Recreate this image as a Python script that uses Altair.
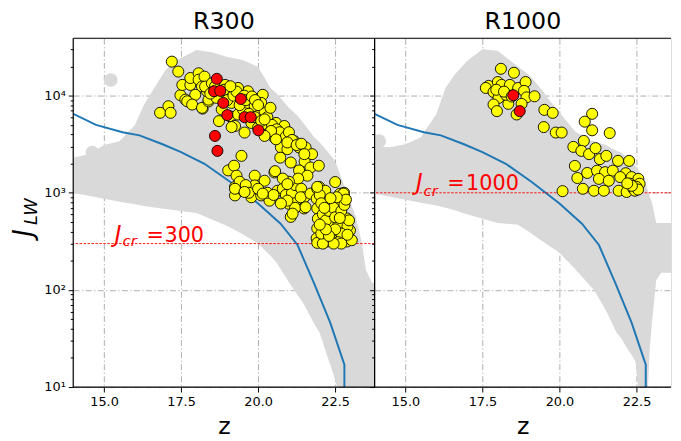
import altair as alt
import pandas as pd

FONT = "DejaVu Sans"

# ---------------- axes / ticks ----------------
x_ticks = [15.0, 17.5, 20.0, 22.5]
y_major = [10, 100, 1000, 10000]
y_major_labels = ["10¹", "10²", "10³", "10⁴"]
y_minor_mult = [2, 3, 4, 5, 6, 7, 8, 9]
Y_DOMAIN = [10, 39000]
X_DOMAIN_L = [14.0, 23.78]
X_DOMAIN_R = [14.0, 23.62]
W_L, W_R, H = 305, 300, 353

# ---------------- grey cloud (all haloes), envelope per panel ----------------
cloud_r300_z = [14.0, 14.5, 15.0, 15.5, 16.0, 16.3, 16.7, 17.0, 17.5, 18.0, 18.5, 19.0, 19.5, 20.0,
                20.4, 20.6, 21.0, 21.3, 21.5, 21.8, 22.0, 22.24, 22.4, 22.46, 22.56, 22.85, 23.17,
                23.37, 23.5, 23.7, 23.8]
cloud_r300_hi = [2300, 2500, 3100, 3400, 5000, 8100, 13000, 18500, 24400, 29500, 28000, 25000, 23300,
                 19800, 12000, 10500, 7500, 6100, 5070, 3800, 3300, 2700, 2330, 2200, 1900, 1050, 570,
                 300, 160, 118, 118]
cloud_r300_lo = [1000, 930, 870, 810, 760, 730, 700, 680, 650, 620, 530, 455, 375, 300, 225, 190, 120,
                 87, 70, 46, 36, 21, 15, 13, 10, 7, 7, 7, 7, 7, 7]

cloud_r1000_z = [14.0, 14.5, 15.0, 15.5, 16.0, 16.3, 16.6, 17.0, 17.5, 18.0, 18.5, 18.65, 19.0, 19.2,
                 19.5, 19.7, 19.93, 20.0, 20.5, 21.0, 21.12, 21.5, 21.86, 22.0, 22.2, 22.4, 22.47,
                 22.55, 22.7, 22.85, 22.93, 23.0, 23.14, 23.3, 23.62]
cloud_r1000_hi = [3000, 2950, 3160, 3720, 6450, 12000, 16500, 22700, 30000, 29000, 21700, 20000, 16400,
                  14000, 10700, 8800, 7000, 6700, 4300, 3460, 3400, 3100, 2700, 2600, 2300, 2000, 1900,
                  1750, 1450, 1100, 910, 800, 490, 490, 490]
cloud_r1000_lo = [980, 910, 850, 790, 740, 700, 660, 600, 540, 490, 475, 470, 400, 360, 310, 280, 250,
                  240, 165, 110, 100, 62, 36, 32, 25, 20, 18, 10, 7, 7, 25, 46, 126, 150, 150]

# isolated grey haloes
blob_r300 = [(15.22, 14500), (14.62, 2600)]
blob_r1000 = [(14.15, 3400)]

# ---------------- critical curve ----------------
curve_z = [14.0, 14.74, 15.6, 16.15, 16.9, 17.5, 18.26, 19.1, 20.0, 20.73, 21.28, 21.81, 22.34, 22.8, 22.8]
curve_j = [6500, 5000, 4200, 3900, 3160, 2620, 1990, 1290, 775, 480, 290, 118, 46, 17, 5]

# ---------------- selected haloes ----------------
r300_yellow = [
    (17.20, 22400), (17.41, 17700), (16.82, 6660), (17.09, 7780), (17.16, 6660), (17.48, 10100),
    (17.54, 12900), (17.80, 12900), (17.80, 15200), (18.07, 17000), (18.07, 14600), (18.26, 15700),
    (18.18, 12400), (17.96, 10200), (17.64, 9100), (17.70, 8750), (17.86, 8100), (18.20, 7360),
    (18.18, 7490), (18.39, 8730), (18.39, 9100), (18.34, 11100), (18.28, 12400), (18.50, 13400),
    (18.60, 12400), (18.77, 10200), (18.93, 12900), (19.03, 10600), (19.14, 8420), (18.82, 7200),
    (18.73, 5470), (19.08, 6150), (19.35, 6400), (19.25, 4870), (19.14, 4750), (19.51, 7200),
    (19.67, 8420), (19.46, 9460), (19.67, 11100), (19.35, 12000), (19.89, 7780), (20.05, 6400),
    (20.21, 6930), (20.15, 10200), (20.10, 8420), (19.78, 5240), (20.00, 4680), (20.26, 5060),
    (20.37, 4170), (20.53, 3700), (19.56, 4170), (20.58, 5240), (20.85, 4870), (20.79, 4000),
    (20.74, 2930), (20.95, 2810), (21.17, 3410), (21.33, 2930), (21.54, 2930), (21.51, 2100),
    (21.70, 1820), (21.97, 1900), (21.06, 2050), (20.72, 2300), (20.53, 1620), (21.33, 1700),
    (21.60, 1500), (19.46, 2400), (18.55, 11000), (18.65, 9500), (18.90, 11500), (19.00, 9000),
    (19.20, 10000), (19.30, 11000), (19.10, 12500), (18.45, 10500), (19.40, 8000), (19.55, 10000),
    (19.60, 9000), (19.80, 9800), (19.90, 9000), (20.00, 8000), (19.70, 6500), (19.90, 6000),
    (20.10, 5500), (20.30, 6000), (20.40, 7500), (20.45, 5000), (20.60, 4500), (20.70, 4200),
    (20.90, 3800), (21.00, 4200), (21.10, 3500), (20.95, 3300), (21.25, 3100), (21.40, 3200),
    (21.75, 2500), (21.50, 2500), (20.21, 5700), (20.42, 4330), (20.21, 3850), (20.58, 3550),
    (19.03, 1700), (19.22, 1900), (19.30, 1500), (19.25, 1150), (19.25, 940), (19.51, 1050),
    (19.89, 1500), (19.89, 1190), (20.21, 1330), (19.78, 900), (20.10, 940), (20.37, 830),
    (20.63, 1050), (20.80, 1100), (21.00, 770), (21.22, 830), (21.06, 565), (21.49, 690),
    (19.40, 1300), (19.60, 1200), (19.70, 1000), (20.00, 1100), (20.30, 1000), (20.50, 950),
    (20.90, 950), (21.10, 1000), (21.20, 1200), (21.30, 1400), (21.00, 1300), (20.80, 1400),
    (21.40, 1100), (21.50, 900), (21.20, 700), (21.38, 900), (21.54, 710), (21.70, 980),
    (20.55, 1670), (19.25, 1100), (19.56, 1020), (20.15, 980), (20.95, 830), (20.74, 775),
    (20.95, 1230), (21.12, 610),
    (21.98, 1150), (21.92, 1100), (21.90, 870), (21.92, 690), (21.94, 540), (21.92, 430),
    (21.90, 340), (21.92, 305), (22.18, 1050), (22.66, 980), (22.61, 800), (22.34, 775),
    (22.24, 610), (22.56, 610), (22.88, 545), (22.77, 445), (22.98, 410), (22.34, 410),
    (22.13, 445), (22.56, 355), (22.24, 315), (22.88, 315), (23.04, 325), (22.40, 500),
    (22.61, 480), (22.13, 355), (22.79, 1000), (22.50, 1290), (22.77, 980), (22.00, 950),
    (22.05, 780), (22.10, 600), (22.20, 520), (22.30, 650), (22.45, 700), (22.50, 560),
    (22.70, 650), (22.80, 750), (22.90, 450), (22.70, 380), (22.50, 420), (22.40, 330),
    (22.60, 310), (22.70, 300), (22.45, 300), (22.10, 300), (22.05, 380), (22.30, 360),
    (22.20, 420), (22.90, 370), (22.95, 520), (22.85, 850), (22.00, 470), (22.15, 700),
    (22.65, 550), (22.55, 900), (22.35, 880), (21.92, 1150),
]
r300_red = [
    (18.66, 14900), (18.57, 11100), (18.77, 11200), (18.87, 8420), (19.44, 9250), (19.00, 6300),
    (19.56, 6000), (19.76, 6000), (20.01, 4400), (18.60, 3850), (18.68, 2700),
]
r1000_yellow = [
    (18.10, 18900), (18.52, 17200), (17.70, 12600), (17.61, 12000), (18.00, 13800), (17.86, 10900),
    (18.12, 12900), (18.39, 12900), (18.66, 12000), (18.90, 13800), (18.85, 11200), (18.93, 9600),
    (19.19, 9850), (18.02, 9460), (17.86, 8100), (17.97, 6930), (18.34, 8230), (18.77, 8230),
    (18.61, 6400), (18.26, 10200), (17.95, 11500), (18.20, 11000), (18.45, 9800),
    (19.51, 7140), (19.78, 6650), (19.49, 4750), (19.88, 4170), (20.07, 4170), (21.06, 6500),
    (20.82, 5400), (21.06, 4400), (21.63, 4120), (20.79, 3420), (20.45, 2970), (20.71, 2700),
    (20.96, 2500), (21.17, 2880), (21.31, 2220), (21.52, 2400), (21.90, 2130), (22.26, 2130),
    (20.50, 1890), (20.58, 1420), (20.90, 1600), (21.22, 1690), (21.48, 1630), (21.73, 1690),
    (22.15, 1590), (21.28, 1390), (21.60, 1330), (21.97, 1450), (22.34, 1450), (22.56, 1390),
    (20.76, 1100), (21.12, 1050), (21.44, 1050), (21.92, 1050), (22.18, 1020), (22.40, 1100),
    (22.60, 1240), (20.10, 1040), (22.29, 1240), (22.50, 1150), (22.45, 1050), (22.55, 1080),
    (22.35, 1180), (22.20, 1250),
]
r1000_red = [(18.50, 10100), (18.71, 6930)]

# ---------------- annotation text ----------------
jcr_r300 = 300
jcr_r1000 = 1000
label_r300 = [("J", 15.35, 310, 23, "italic"), ("cr", 15.60, 280, 15, "italic"),
              ("=", 16.38, 310, 21, "normal"), ("300", 16.96, 310, 21, "normal")]
label_r1000 = [("J", 15.34, 1074, 23, "italic"), ("cr", 15.59, 935, 15, "italic"),
               ("=", 16.36, 1074, 21, "normal"), ("1000", 16.97, 1074, 21, "normal")]


def pts(pairs):
    return pd.DataFrame(pairs, columns=["z", "J"])


major_test = "indexof(" + str(y_major) + ", datum.value) >= 0"
label_expr = " : ".join(
    f"datum.value == {v} ? '{t}'" for v, t in zip(y_major, y_major_labels)) + " : ''"
y_ticks = sorted(set(y_major + [m * v for v in y_major for m in y_minor_mult]))
y_ticks = [v for v in y_ticks if Y_DOMAIN[0] <= v <= Y_DOMAIN[1]]

GRID = dict(grid=True, gridColor="#9a9a9a", gridWidth=0.8, gridDash=[6, 2.5, 1.2, 2.5])


def x_axis():
    return alt.Axis(values=x_ticks, format=".1f", title="z", titleFont=FONT, titleFontSize=24,
                    titleFontWeight="normal", titleColor="black", titlePadding=6,
                    labelFont=FONT, labelFontSize=13, labelColor="black", labelPadding=4,
                    tickSize=5, tickColor="black", tickWidth=1, domain=False, labelFlush=False,
                    **GRID)


def y_axis(show_labels):
    kw = dict(values=y_ticks, title=None, domain=False, tickColor="black", tickWidth=1,
              tickSize={"condition": {"test": major_test, "value": 5}, "value": 3},
              gridOpacity={"condition": {"test": major_test, "value": 1}, "value": 0},
              labelOverlap=False, labelFont=FONT, labelFontSize=13, labelColor="black",
              labelPadding=3, **GRID)
    if show_labels:
        kw["labelExpr"] = label_expr
    else:
        kw["labels"] = False
    return alt.Axis(**kw)


def panel(title, width, xdom, cz, clo, chi, blobs, yellow, red, jcr, labels, left):
    xs = alt.Scale(domain=xdom, nice=False, zero=False)
    ys = alt.Scale(type="log", domain=Y_DOMAIN, nice=False)
    X = alt.X("z:Q", scale=xs, axis=x_axis())
    Y = alt.Y("J:Q", scale=ys, axis=y_axis(left))

    cloud = alt.Chart(pd.DataFrame({"z": cz, "J": clo, "J2": chi})).mark_area(
        color="#d9d9d9", opacity=1, clip=True).encode(x=X, y=Y, y2="J2:Q")
    blob = alt.Chart(pts(blobs)).mark_circle(size=190, color="#d9d9d9", opacity=1, clip=True).encode(x=X, y=Y)
    curve = alt.Chart(pd.DataFrame({"z": curve_z, "J": curve_j, "i": range(len(curve_z))})).mark_line(
        color="#1f77b4", strokeWidth=2, clip=True).encode(x=X, y=Y, order="i:Q")
    hline = alt.Chart(pd.DataFrame({"J": [jcr]})).mark_rule(
        color="red", strokeWidth=1, strokeDash=[2.5, 1.5], opacity=0.9).encode(y=Y)
    yel = alt.Chart(pts(yellow)).mark_circle(size=125, color="#ffff00", opacity=1, stroke="black",
                                             strokeWidth=0.9, clip=True).encode(x=X, y=Y)
    rd = alt.Chart(pts(red)).mark_circle(size=125, color="#ff0000", opacity=1, stroke="black",
                                         strokeWidth=0.9, clip=True).encode(x=X, y=Y)
    ldf = pd.DataFrame(labels, columns=["t", "z", "J", "s", "st"])
    txt = [
        alt.Chart(ldf[ldf.t == t]).mark_text(align="left", baseline="alphabetic", font=FONT,
                                             fontSize=int(s), fontStyle=st, color="red").encode(
            x=X, y=Y, text="t:N")
        for t, s, st in zip(ldf.t, ldf.s, ldf.st)]

    one = pd.DataFrame({"a": [0]})
    frame = [
        alt.Chart(one).mark_rule(color="black", strokeWidth=1.2).encode(
            x=alt.value(0), x2=alt.value(width), y=alt.value(0)),
        alt.Chart(one).mark_rule(color="black", strokeWidth=1.2).encode(
            x=alt.value(0), x2=alt.value(width), y=alt.value(H)),
        alt.Chart(one).mark_rule(color="black", strokeWidth=1.2).encode(
            x=alt.value(0), y=alt.value(0), y2=alt.value(H)),
    ]
    extra = []
    if left:
        extra = [
            alt.Chart(pd.DataFrame({"t": ["J"]})).mark_text(
                align="left", baseline="alphabetic", angle=270, font=FONT, fontSize=26,
                fontStyle="italic", color="black").encode(text="t:N", x=alt.value(-42), y=alt.value(201)),
            alt.Chart(pd.DataFrame({"t": ["LW"]})).mark_text(
                align="left", baseline="alphabetic", angle=270, font=FONT, fontSize=18,
                fontStyle="italic", color="black").encode(text="t:N", x=alt.value(-37), y=alt.value(189)),
        ]
    layers = [cloud, blob, curve, hline, yel, rd] + txt + frame + extra
    return alt.layer(*layers).properties(
        width=width, height=H,
        title=alt.TitleParams(text=title, font=FONT, fontSize=24, fontWeight="normal", color="black",
                              offset=4, anchor="middle"))


left_panel = panel("R300", W_L, X_DOMAIN_L, cloud_r300_z, cloud_r300_lo, cloud_r300_hi,
                   blob_r300, r300_yellow, r300_red, jcr_r300, label_r300, True)
right_panel = panel("R1000", W_R, X_DOMAIN_R, cloud_r1000_z, cloud_r1000_lo, cloud_r1000_hi,
                    blob_r1000, r1000_yellow, r1000_red, jcr_r1000, label_r1000, False)

chart = alt.hconcat(left_panel, right_panel, spacing=0, bounds="flush").properties(
    padding={"left": 2, "top": -2, "right": 0, "bottom": 0},
).configure_view(stroke="transparent").configure(font=FONT)

chart.save("out.html", embed_options={"renderer": "svg", "actions": False})
